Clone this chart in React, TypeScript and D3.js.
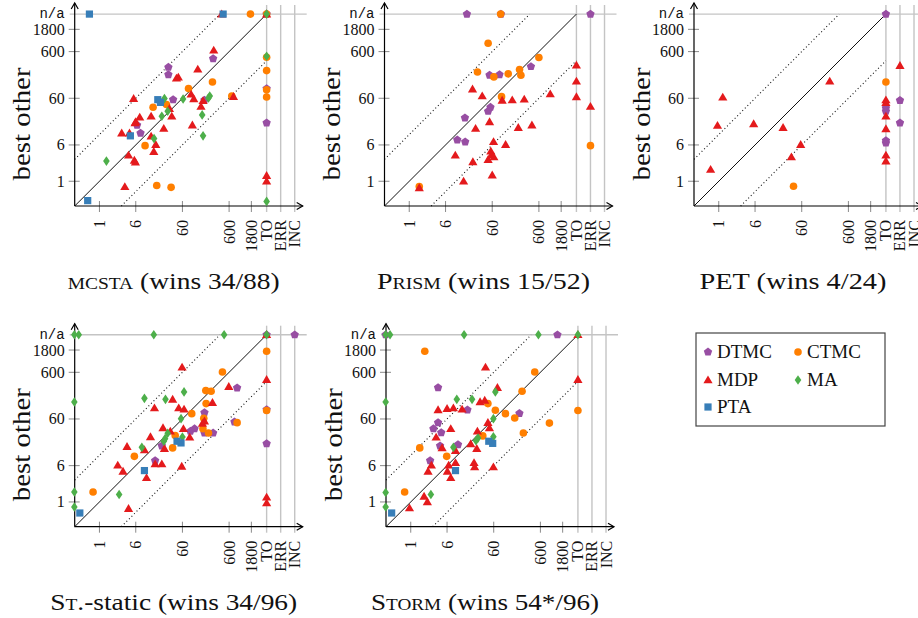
import React from "react";
import * as d3 from "d3";

type XV = number | "TO" | "ERR" | "INC";
type YV = number | "n/a";
type Pt = [XV, YV];

// ---------- data (seconds; "TO"/"ERR"/"INC" on x, "n/a" on y) ----------
const mcstaDTMC: Pt[] = [[273, 425], [30, 277], [30, 193], [37.9, 56], [6.4, 15.9], [7.6, 10.7], [178, 55], ["TO", 97], ["TO", 17.8], ["TO", "n/a"]];
const mcstaCTMC: Pt[] = [[1720, "n/a"], ["TO", 454], ["TO", 235], ["TO", 91], ["TO", 64], [264, 134], [81, 97], [685, 67], [14.1, 38.5], [27.3, 44], [9.5, 5.8], [16.9, 0.81], [34.3, 0.74], ["TO", "n/a"]];
const mcstaMDP: Pt[] = [[417, "n/a"], ["TO", "n/a"], [281, 641], [128, 251], [49, 169], [44.7, 161], [92, 73], [105, 58], [166, 53], [150, 40], [745, 65], [5.4, 59], [7.3, 23.5], [6.0, 18.7], [5.8, 17.8], [12.8, 24.7], [31.6, 36], [35.5, 24.7], [23.9, 13.5], [98, 15.9], [3.0, 10.7], [4.4, 10.7], [12.8, 9.2], [16.1, 6.1], [14.6, 4.3], [4.2, 3.6], [5.6, 2.8], [5.9, 2.55], [3.5, 0.76], ["TO", 1.32], ["TO", 1.0]];
const mcstaMA: Pt[] = [["TO", "n/a"], ["TO", 477], ["TO", 0.37], [24.7, 59], [62, 58], [231, 67], [217, 61], [29, 31.6], [21.7, 24.7], [159, 26.4], [166, 9.4], [14.8, 8.2], [1.41, 2.7]];
const mcstaPTA: Pt[] = [[0.61, "n/a"], [447, "n/a"], [17.8, 56], [20.3, 49], [4.6, 9.4], [0.56, 0.385]];

const prismDTMC: Pt[] = [[17.2, "n/a"], [92, "n/a"], ["ERR", "n/a"], [405, 287], [52.6, 187], [86, 193], [55, 38.5], [49, 31.6], [15.6, 22.7], [10.7, 7.7], [15.8, 7.0]];
const prismCTMC: Pt[] = [[91, "n/a"], [49, 906], [600, 447], [29, 220], [132, 200], [231, 247], [247, 187], [65, 172], [95, 65], ["ERR", 5.8], [1.64, 0.77]];
const prismMDP: Pt[] = [["TO", 306], ["TO", 139], ["TO", 64], ["ERR", 40], [1050, 74], [22.7, 94], [36.6, 67], [98, 54], [161, 55], [291, 57], [52.6, 18.7], [26.4, 13.5], [217, 14.1], [425, 15.9], [64, 7.0], [116, 6.1], [56, 4.4], [58, 3.7], [65, 3.3], [49, 2.9], [9.7, 3.6], [23.1, 2.6], [60, 1.35], [14.6, 1.0], [1.64, 0.72]];
const prismMA: Pt[] = [];
const prismPTA: Pt[] = [];

const petDTMC: Pt[] = [["TO", "n/a"], ["ERR", 54], ["ERR", 17.8], ["TO", 37], ["TO", 31.6], ["TO", 7.4], ["TO", 6.6]];
const petCTMC: Pt[] = [["TO", 134], [40, 0.78]];
const petMDP: Pt[] = [["ERR", 301], ["TO", 55], ["TO", 48], ["TO", 24.7], ["TO", 13.2], ["TO", 3.6], ["TO", 2.7], [1.22, 63], [0.94, 15.6], [5.6, 16.9], [23.9, 14.1], [239, 139], [57, 6.1], [36, 3.3], [0.67, 1.78]];
const petMA: Pt[] = [];
const petPTA: Pt[] = [];

const ststaticDTMC: Pt[] = [["INC", "n/a"], ["TO", "n/a"], [891, 277], [178, 82], [109, 37], [89, 32.7], [178, 30], [273, 30], [782, 52], ["TO", 95], ["TO", 17.8], [15.6, 7.7], [21.7, 15.9]];
const ststaticCTMC: Pt[] = [["TO", 1693], [432, 611], [190, 243], [247, 235], [193, 128], [95, 78], [172, 62], [165, 37], [217, 30], [891, 50], ["TO", 91], [37, 14.4], [5.6, 9.5], [0.73, 1.64], [42, 26.6]];
const ststaticMDP: Pt[] = [["TO", "n/a"], [59, 769], ["TO", 418], [591, 296], [264, 134], [15.1, 103], [37, 158], [50, 103], [65, 97], [178, 54], [161, 48], [63, 37], [23, 38.5], [33, 32.7], [12.4, 24.7], [86, 24.3], [3.9, 15.3], [9.2, 13], [24.7, 13.9], [2.47, 6.1], [3.2, 4.5], [10.2, 3.3], [15.6, 6.5], [21.7, 6.5], [58, 5.8], [4.2, 0.72], ["TO", 1.26], ["TO", 0.95]];
const ststaticMA: Pt[] = [[0.29, "n/a"], [0.36, "n/a"], [14.6, "n/a"], [469, "n/a"], ["TO", "n/a"], [0.29, 139], [0.29, 1.64], [0.29, 0.78], [2.64, 1.44], [8.1, 14.8], [9.2, 166], [26, 158], [65, 228], [56, 61], [29, 29.6], [25.5, 22.7], [24, 20], [60, 24.7]];
const ststaticPTA: Pt[] = [[0.38, 0.58], [9.2, 4.7], [46, 20], [56, 18.4]];

const stormDTMC: Pt[] = [[0.29, "n/a"], [1390, "n/a"], [3.85, 282], [16.4, 94], [213, 79], [3.85, 50], [3.06, 37], [4.5, 30.6], [4.25, 15.9], [10.3, 16.9], [2.6, 7.7]];
const stormCTMC: Pt[] = [[2.0, 1693], [454, 611], [243, 235], [45, 128], [65, 92], [107, 78], [169, 63], [936, 49], ["TO", 91], [259, 30], [35, 26], [1.56, 14.4], [5.9, 9.5], [0.74, 1.64]];
const stormMDP: Pt[] = [[40, 769], ["TO", "n/a"], ["TO", 418], [72, 282], [3.85, 94], [6.0, 100], [8.2, 103], [12.6, 97], [30.6, 139], [38.5, 150], [45, 50], [48.5, 38.5], [26.8, 32.7], [7.2, 37], [3.5, 24.3], [4.7, 14.4], [19.3, 17.5], [26, 13.9], [9.1, 12.6], [2.77, 6.1], [2.35, 4.5], [6.5, 6.1], [9.1, 6.9], [6.1, 4.5], [7.2, 3.3], [22.7, 6.9], [23.4, 5.6], [59, 5.6], [1.93, 1.32], [2.27, 1.0], [0.94, 0.74]];
const stormMA: Pt[] = [[0.29, "n/a"], [0.36, "n/a"], [13.9, "n/a"], [544, "n/a"], ["TO", "n/a"], [0.29, 139], [0.29, 1.6], [0.29, 0.78], [2.7, 1.44], [9.7, 158], [20.6, 158], [65, 228], [59, 61], [27.7, 23.5], [25, 20.6], [8.2, 14.8], [59, 25]];
const stormPTA: Pt[] = [[0.39, 0.58], [9.1, 4.7], [47, 20], [57, 18]];

const seriesNames = ["DTMC", "CTMC", "MDP", "MA", "PTA"];
const tickValues = [1, 6, 60, 600, 1800];
const tickLabels = ["1", "6", "60", "600", "1800"];
const xCategoryLabels = ["TO", "ERR", "INC"];
const yCategoryLabel = "n/a";
const yAxisTitle = "best other";

type Seg = { t: string; sc?: boolean };
const mcstaTitle: Seg[] = [{ t: "mcsta", sc: true }, { t: " (wins 34/88)" }];
const prismTitle: Seg[] = [{ t: "P" }, { t: "rism", sc: true }, { t: " (wins 15/52)" }];
const petTitle: Seg[] = [{ t: "PET (wins 4/24)" }];
const ststaticTitle: Seg[] = [{ t: "S" }, { t: "t.", sc: true }, { t: "-static (wins 34/96)" }];
const stormTitle: Seg[] = [{ t: "S" }, { t: "torm", sc: true }, { t: " (wins 54*/96)" }];

// ---------- styling / layout ----------
const COLORS = ["#984ea3", "#ff7f00", "#e41a1c", "#4daf4a", "#377eb8"];
const FONT = "'Liberation Serif', 'DejaVu Serif', 'Times New Roman', Times, serif";
const MONO = "'Liberation Mono', 'DejaVu Sans Mono', monospace";
const MIN = 0.295;
const TO = 3820;
const DEC = 46.67;
const SPAN = (Math.log10(TO) - Math.log10(MIN)) * DEC;
const xs = d3.scaleLog().domain([MIN, TO]).range([0, SPAN]);
const ys = d3.scaleLog().domain([MIN, TO]).range([0, -SPAN]);

const xCat: Record<string, number> = { TO: TO, ERR: TO * 2, INC: TO * 4 };

function pentagonPath(r: number) {
  const pts = d3.range(5).map((k) => {
    const a = -Math.PI / 2 + (k * 2 * Math.PI) / 5;
    return [r * Math.cos(a), r * Math.sin(a)];
  });
  return "M" + pts.map((p) => p[0].toFixed(2) + "," + p[1].toFixed(2)).join("L") + "Z";
}
const PENT = pentagonPath(4.4);
const TRI = "M0,-4.6L4.6,3.3L-4.6,3.3Z";
const DIAM = "M0,-4.8L3.3,0L0,4.8L-3.3,0Z";

function Marker({ kind, x, y }: { kind: number; x: number; y: number }) {
  const c = COLORS[kind];
  if (kind === 1) return <circle cx={x} cy={y} r={3.8} fill={c} />;
  if (kind === 4) return <rect x={x - 3.6} y={y - 3.6} width={7.2} height={7.2} fill={c} />;
  const d = kind === 0 ? PENT : kind === 2 ? TRI : DIAM;
  return <path d={d} transform={`translate(${x},${y})`} fill={c} />;
}

type PanelProps = { ox: number; oy: number; series: Pt[][]; title: Seg[]; titleLen: number };

const textStyle = { fontFamily: FONT };

function Panel({ ox, oy, series, title, titleLen }: PanelProps) {
  const X = (v: XV) => ox + (typeof v === "number" ? xs(v) : xs(xCat[v]));
  const Y = (v: YV) => oy + (v === "n/a" ? ys(TO) : ys(v));
  const yTop = oy - 201;
  const xTip = ox + 228;
  const gray = "#c4c4c4";
  return (
    <g>
      {xCategoryLabels.map((k) => (
        <line key={k} x1={X(k as XV)} x2={X(k as XV)} y1={yTop} y2={oy + 6} stroke={gray} strokeWidth={1.4} />
      ))}
      <line x1={ox - 5} x2={ox + 232} y1={Y("n/a")} y2={Y("n/a")} stroke={gray} strokeWidth={1.4} />
      {tickValues.map((v) => (
        <g key={v}>
          <line x1={X(v)} x2={X(v)} y1={oy - 5} y2={oy + 6} stroke="#8a8a8a" strokeWidth={1} />
          <line x1={ox - 6} x2={ox + 5} y1={Y(v)} y2={Y(v)} stroke="#8a8a8a" strokeWidth={1} />
        </g>
      ))}
      <line x1={X(MIN)} y1={Y(MIN)} x2={X(TO)} y2={Y(TO)} stroke="#111" strokeWidth={1} />
      <line x1={X(MIN)} y1={Y(MIN * 10)} x2={X(TO / 10)} y2={Y(TO)} stroke="#111" strokeWidth={1.1} strokeDasharray="1 2.6" />
      <line x1={X(MIN * 10)} y1={Y(MIN)} x2={X(TO)} y2={Y(TO / 10)} stroke="#111" strokeWidth={1.1} strokeDasharray="1 2.6" />
      <line x1={ox} x2={xTip} y1={oy} y2={oy} stroke="#000" strokeWidth={1.2} />
      <line x1={ox} x2={ox} y1={oy} y2={yTop - 2} stroke="#000" strokeWidth={1.2} />
      <path d={`M${xTip - 6},${oy - 3.5}L${xTip},${oy}L${xTip - 6},${oy + 3.5}`} fill="none" stroke="#000" strokeWidth={1.2} />
      <path d={`M${ox - 3.5},${yTop + 4}L${ox},${yTop - 2}L${ox + 3.5},${yTop + 4}`} fill="none" stroke="#000" strokeWidth={1.2} />
      {tickValues.map((v, i) => (
        <text key={v} x={ox - 10} y={Y(v)} textAnchor="end" dominantBaseline="central" style={textStyle} fontSize={16} fill="#111">
          {tickLabels[i]}
        </text>
      ))}
      <text x={ox - 10} y={Y("n/a")} textAnchor="end" dominantBaseline="central" style={{ fontFamily: MONO }} fontSize={14} fill="#111">
        {yCategoryLabel}
      </text>
      {tickValues.map((v, i) => (
        <text key={v} transform={`translate(${X(v)},${oy + 14}) rotate(-90)`} textAnchor="end" dominantBaseline="central" style={textStyle} fontSize={16} fill="#111">
          {tickLabels[i]}
        </text>
      ))}
      {xCategoryLabels.map((k) => (
        <text key={k} transform={`translate(${X(k as XV)},${oy + 14}) rotate(-90)`} textAnchor="end" dominantBaseline="central" style={textStyle} fontSize={16} fill="#111">
          {k}
        </text>
      ))}
      {series.map((pts, kind) =>
        pts.map((p, i) => <Marker key={kind + "-" + i} kind={kind} x={X(p[0])} y={Y(p[1])} />)
      )}
      <text transform={`translate(${ox - 53},${oy - 82}) rotate(-90)`} textAnchor="middle" dominantBaseline="central" style={textStyle} fontSize={25} textLength={113} lengthAdjust="spacingAndGlyphs" fill="#111">
        {yAxisTitle}
      </text>
      <text x={ox + 99} y={oy + 83} textAnchor="middle" style={textStyle} fontSize={24} textLength={titleLen} lengthAdjust="spacingAndGlyphs" fill="#111">
        {title.map((s, i) => (
          <tspan key={i} style={s.sc ? { fontVariant: "small-caps" } : undefined}>{s.t}</tspan>
        ))}
      </text>
    </g>
  );
}

function Legend() {
  const cols = [708, 798];
  const rows = [352, 380, 407];
  return (
    <g>
      <rect x={696} y={333} width={189} height={93} fill="#fff" stroke="#444" strokeWidth={1.2} />
      {seriesNames.map((n, i) => {
        const cx = cols[i % 2];
        const cy = rows[Math.floor(i / 2)];
        return (
          <g key={n}>
            <Marker kind={i} x={cx} y={cy} />
            <text x={cx + 9} y={cy + 6} style={textStyle} fontSize={19} fill="#111">{n}</text>
          </g>
        );
      })}
    </g>
  );
}

export default function App() {
  const panels: PanelProps[] = [
    { ox: 74.7, oy: 206, series: [mcstaDTMC, mcstaCTMC, mcstaMDP, mcstaMA, mcstaPTA], title: mcstaTitle, titleLen: 212 },
    { ox: 384.5, oy: 206, series: [prismDTMC, prismCTMC, prismMDP, prismMA, prismPTA], title: prismTitle, titleLen: 213 },
    { ox: 694, oy: 206, series: [petDTMC, petCTMC, petMDP, petMA, petPTA], title: petTitle, titleLen: 187 },
    { ox: 74.7, oy: 526.7, series: [ststaticDTMC, ststaticCTMC, ststaticMDP, ststaticMA, ststaticPTA], title: ststaticTitle, titleLen: 247 },
    { ox: 386, oy: 526.7, series: [stormDTMC, stormCTMC, stormMDP, stormMA, stormPTA], title: stormTitle, titleLen: 228 },
  ];
  return (
    <svg width={918} height={618} style={{ position: "absolute", left: 0, top: 0, background: "#fff" }}>
      <rect width={918} height={618} fill="#fff" />
      {panels.map((p, i) => (
        <Panel key={i} {...p} />
      ))}
      <Legend />
    </svg>
  );
}
